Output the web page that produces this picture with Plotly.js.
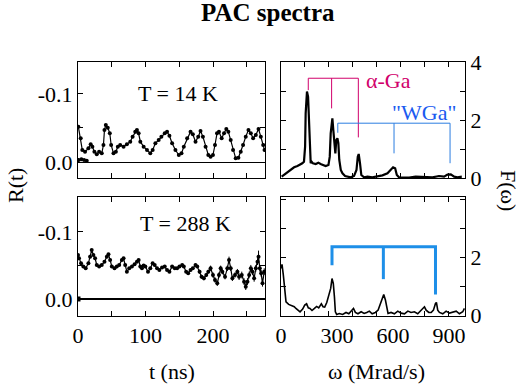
<!DOCTYPE html>
<html>
<head>
<meta charset="utf-8">
<script src="https://cdn.plot.ly/plotly-3.0.1.min.js"></script>
<style>html,body{margin:0;padding:0;background:#fff}#chart{width:520px;height:384px}</style>
</head>
<body>
<div id="chart"></div>
<script>
// ---- T = 14 K, R(t) ----
const t14 = [0.5,4.0,6.4,10.4,15.4,18.8,21.3,24.3,27.8,31.3,35.2,37.7,39.2,41.2,44.1,47.1,49.1,52.6,56.1,59.0,62.5,67.5,72.4,77.4,80.9,84.8,87.3,89.8,92.3,97.2,102.2,107.1,110.6,114.6,119.5,123.5,128.5,131.9,135.4,139.4,144.3,149.3,153.3,156.7,161.7,166.7,170.1,174.1,178.1,181.5,185.0,189.0,193.0,196.4,199.9,202.9,205.9,208.8,212.8,216.3,219.7,222.7,226.2,229.7,233.6,237.6,241.1,244.5,248.5,252.5,256.0,259.4,263.4,267.4,270.8,274.3,276.3];
const r14 = [-0.052,-0.0348,-0.0176,-0.0152,-0.0201,-0.026,-0.0225,-0.0152,-0.0113,-0.0152,-0.0127,-0.025,-0.047,-0.0544,-0.0505,-0.0422,-0.025,-0.0127,-0.0152,-0.0225,-0.025,-0.0225,-0.026,-0.0299,-0.0373,-0.0446,-0.047,-0.0422,-0.0299,-0.0225,-0.0176,-0.0127,-0.0176,-0.0275,-0.0324,-0.0373,-0.0422,-0.0446,-0.0387,-0.0275,-0.0176,-0.0103,-0.0127,-0.0225,-0.0348,-0.0446,-0.0407,-0.0299,-0.0373,-0.0456,-0.0373,-0.0225,-0.0103,-0.0078,-0.0103,-0.025,-0.0422,-0.0446,-0.0348,-0.0422,-0.0485,-0.0446,-0.0324,-0.0176,-0.0054,-0.0064,-0.0152,-0.025,-0.0373,-0.047,-0.0422,-0.0348,-0.0397,-0.0485,-0.0373,-0.025,-0.0176];
const t14Prompt = [1, 5, 9, 13];
const r14Prompt = [-0.003, -0.004, -0.003, -0.002];

// ---- T = 288 K, R(t) ----
const t288 = [0,1.5,4.5,7.9,11.4,15.4,17.9,20.3,22.8,25.3,27.8,31.3,35.2,39.2,42.7,45.1,47.6,50.1,54.1,57.5,61.0,65.0,67.5,69.9,72.4,75.9,79.9,83.8,87.3,89.8,92.3,94.7,97.2,99.7,103.7,107.1,110.6,113.6,117.1,120.5,124.5,128.5,131.9,135.4,139.4,143.3,146.8,150.3,154.3,156.7,160.2,163.2,166.7,170.1,174.1,176.6,180.1,183.0,186.5,190.0,193.0,196.4,199.9,202.9,206.3,208.8,211.3,213.8,217.8,221.2,223.7,226.2,228.7,232.6,236.1,238.6,242.6,246.0,248.5,251.0,253.5,256.0,258.4,260.9,263.4,265.9,267.4,269.3,271.3,273.3,275.8];
const r288 = [-0.0657,-0.0607,-0.0532,-0.0483,-0.0458,-0.0532,-0.0632,-0.0731,-0.0657,-0.0607,-0.0507,-0.0483,-0.0507,-0.0557,-0.0632,-0.0667,-0.0582,-0.0483,-0.0458,-0.0483,-0.0507,-0.0582,-0.0607,-0.0507,-0.0408,-0.0458,-0.0483,-0.0517,-0.0557,-0.0582,-0.0483,-0.0458,-0.0498,-0.0483,-0.0408,-0.0458,-0.0532,-0.0507,-0.0458,-0.0433,-0.0468,-0.0483,-0.0433,-0.0408,-0.0483,-0.0458,-0.0458,-0.0483,-0.0507,-0.0483,-0.0408,-0.0383,-0.0433,-0.0458,-0.0507,-0.0483,-0.0408,-0.0333,-0.0308,-0.0358,-0.0408,-0.0458,-0.0358,-0.0284,-0.0234,-0.0358,-0.0458,-0.0408,-0.0333,-0.0458,-0.0582,-0.0458,-0.0308,-0.0358,-0.0408,-0.0333,-0.0358,-0.0259,-0.0184,-0.0259,-0.0358,-0.0458,-0.0408,-0.0308,-0.0458,-0.0557,-0.0632,-0.0458,-0.0383,-0.0234,-0.0408];
const e288 = [0.001,0.001,0.001,0.001,0.001,0.001,0.001,0.001,0.001,0.001,0.001,0.001,0.001,0.001,0.001,0.001,0.001,0.001,0.001,0.001,0.001,0.001,0.001,0.001,0.001,0.001,0.001,0.001,0.001,0.001,0.001,0.001,0.001,0.001,0.001,0.001,0.001,0.001,0.001,0.001,0.001,0.001,0.001,0.001,0.001,0.001,0.001,0.001,0.001,0.001,0.002,0.002,0.002,0.002,0.002,0.002,0.003,0.003,0.003,0.003,0.003,0.004,0.004,0.004,0.004,0.004,0.004,0.004,0.004,0.004,0.005,0.004,0.004,0.004,0.004,0.005,0.005,0.005,0.005,0.005,0.005,0.005,0.005,0.005,0.005,0.005,0.009,0.005,0.005,0.005,0.005];
const t288Start = [0];
const r288Start = [0];

// ---- T = 14 K, F(omega) ----
const w14 = [3.6,16,34,52,70,88,100,114,123,129,132,136,139,145,150,155,159,164,171,186,200,212,225,239,254,261,266,271,275,280,286,291,296,302,307,312,320,329,343,355,373,391,404,411,416,423,430,445,463,489,516,543,570,588,600,611,620,632,659,686,721,748,775,811,846,873,891,909,927,945,968];
const f14 = [0.046,0.103,0.184,0.276,0.368,0.414,0.448,0.506,0.563,1.08,2.23,2.86,2.98,2.80,2.0,1.08,0.506,0.563,0.506,0.483,0.529,0.483,0.448,0.414,0.448,0.736,1.54,2.0,2.06,1.66,0.966,0.851,1.31,1.37,1.20,0.621,0.276,0.161,0.069,0.046,0.023,0.069,0.276,0.736,0.828,0.506,0.103,0.023,0.046,0.023,0.046,0.092,0.161,0.276,0.368,0.333,0.103,0.023,0.023,0.011,0.046,0.034,0.046,0.023,0.069,0.046,0.115,0.126,0.046,0.023,0.046];

// ---- T = 288 K, F(omega) ----
const w288 = [0,5.4,12.5,19.6,26.8,41,59,71,80,89,102,116,127,137,146,155,166,179,191,202,209,216,225,234,245,255,266,273,280,286,291,298,312,330,348,363,377,388,398,412,429,445,459,473,488,505,520,530,541,550,559,566,573,589,607,625,643,661,679,696,714,732,750,768,777,791,804,816,827,832,839,848,866,884,902,920,938,955,973,982];
const f288 = [1.61,1.75,1.38,0.80,0.46,0.37,0.32,0.29,0.23,0.17,0.115,0.21,0.345,0.39,0.25,0.23,0.16,0.23,0.30,0.25,0.345,0.39,0.29,0.276,0.437,0.63,0.92,1.26,1.09,0.63,0.115,0.023,0.057,0.023,0.092,0.046,0.138,0.23,0.092,0.046,0.115,0.057,0.092,0.138,0.046,0.092,0.172,0.345,0.60,0.71,0.52,0.23,0.057,0.092,0.046,0.138,0.069,0.046,0.138,0.092,0.115,0.046,0.161,0.287,0.172,0.092,0.092,0.172,0.40,0.437,0.172,0.092,0.046,0.138,0.069,0.092,0.138,0.046,0.115,0.23];

// ---- frequency brackets ----
const alphaLegs = [146, 271, 414];
const alphaLegEnds = [3.03, 2.40, 1.40];
const alphaTop = 3.44;
const wgaLegs = [304, 605, 905];
const wgaLegEnds = [1.56, 0.85, 0.51];
const wgaTop = 1.89;
const hotLegs = [273, 548, 827];
const hotLegEnds = [1.72, 1.24, 0.71];
const hotTop = 2.36;

// ---- tick labels ----
const tTickVals = [0, 50, 100, 150, 200, 250];
const tTickText = ['0', '', '100', '', '200', ''];
const wLabelVals = [0, 300, 600, 900];
const wLabelText = ['0', '300', '600', '900'];
const wTickVals = [128, 256, 384, 512, 640, 768, 896];
const rTickVals = [-0.1, -0.05, 0];
const rTickText = ['-0.1', '', '0.0'];
const fTickVals = [0, 1, 2, 3, 4];
const fTickTextTop = ['0', '', '2', '', '4'];
const fTickTextBot = ['0', '', '2', '', ''];

function bracket(legs, ends, top) {
  return {
    x: [legs[0], legs[0], legs[2], legs[2], null, legs[1], legs[1]],
    y: [ends[0], top, top, ends[2], null, top, ends[1]]
  };
}

const FONT = '"Liberation Serif", "Times New Roman", Times, serif';
const W = 520, H = 384;
const px = v => v / W, py = v => 1 - v / H;

const bA = bracket(alphaLegs, alphaLegEnds, alphaTop);
const bW = bracket(wgaLegs, wgaLegEnds, wgaTop);
const bH = bracket(hotLegs, hotLegEnds, hotTop);

const traces = [
  {x: t14, y: r14, xaxis: 'x', yaxis: 'y', mode: 'lines+markers', line: {color: '#000', width: 1.2}, marker: {color: '#000', size: 4}},
  {x: t14Prompt, y: r14Prompt, xaxis: 'x', yaxis: 'y', mode: 'markers', marker: {color: '#000', size: 4}},
  {x: w14, y: f14, xaxis: 'x2', yaxis: 'y2', mode: 'lines', line: {color: '#000', width: 2.2}},
  {x: bA.x, y: bA.y, xaxis: 'x2', yaxis: 'y2', mode: 'lines', line: {color: '#d1006b', width: 1}},
  {x: bW.x, y: bW.y, xaxis: 'x2', yaxis: 'y2', mode: 'lines', line: {color: '#2a7de1', width: 1}},
  {x: t288, y: r288, xaxis: 'x3', yaxis: 'y3', mode: 'lines+markers', line: {color: '#000', width: 1.2}, marker: {color: '#000', size: 4},
   error_y: {type: 'data', array: e288, visible: true, color: '#000', thickness: 1, width: 0}},
  {x: t288Start, y: r288Start, xaxis: 'x3', yaxis: 'y3', mode: 'markers', marker: {color: '#000', size: 5, symbol: 'square'}},
  {x: w288, y: f288, xaxis: 'x4', yaxis: 'y4', mode: 'lines', line: {color: '#000', width: 1.6}},
  {x: bH.x, y: bH.y, xaxis: 'x4', yaxis: 'y4', mode: 'lines', line: {color: '#1e8fe8', width: 3}}
];

const tickFont = {family: FONT, size: 22, color: '#000'};
const common = {showline: true, linecolor: '#000', linewidth: 1, mirror: 'ticks', ticks: 'inside', ticklen: 5, tickcolor: '#000', showgrid: false, tickfont: tickFont, fixedrange: true};

const leftDom = [px(78), px(265)];
const rightDom = [px(281), px(465)];
const topDom = [py(178), py(62)];
const botDom = [py(316), py(197)];

const layout = {
  width: W, height: H,
  margin: {l: 0, r: 0, t: 0, b: 0},
  paper_bgcolor: '#fff', plot_bgcolor: '#fff',
  showlegend: false,
  font: {family: FONT, color: '#000'},
  xaxis: Object.assign({}, common, {domain: leftDom, anchor: 'y', range: [0, 277], tickmode: 'array', tickvals: tTickVals, ticktext: tTickVals.map(() => ''), zeroline: false}),
  yaxis: Object.assign({}, common, {domain: topDom, anchor: 'x', range: [0.0235, -0.147], tickmode: 'array', tickvals: rTickVals, ticktext: rTickText, zeroline: true, zerolinecolor: '#000', zerolinewidth: 1}),
  xaxis2: Object.assign({}, common, {domain: rightDom, anchor: 'y2', range: [0, 985], tickmode: 'array', tickvals: wLabelVals, ticktext: wLabelVals.map(() => ''), ticklen: 0, zeroline: false,
    minor: {tickmode: 'array', tickvals: wTickVals, ticks: 'inside', ticklen: 5, tickcolor: '#000', showgrid: false}}),
  yaxis2: Object.assign({}, common, {domain: topDom, anchor: 'x2', side: 'right', range: [0, 4], tickmode: 'array', tickvals: fTickVals, ticktext: fTickTextTop, zeroline: false}),
  xaxis3: Object.assign({}, common, {domain: leftDom, anchor: 'y3', range: [0, 277], tickmode: 'array', tickvals: tTickVals, ticktext: tTickText, zeroline: false}),
  yaxis3: Object.assign({}, common, {domain: botDom, anchor: 'x3', range: [0.0254, -0.1522], tickmode: 'array', tickvals: rTickVals, ticktext: rTickText, zeroline: true, zerolinecolor: '#000', zerolinewidth: 2}),
  xaxis4: Object.assign({}, common, {domain: rightDom, anchor: 'y4', range: [0, 985], tickmode: 'array', tickvals: wLabelVals, ticktext: wLabelText, ticklen: 0, zeroline: false,
    minor: {tickmode: 'array', tickvals: wTickVals, ticks: 'inside', ticklen: 5, tickcolor: '#000', showgrid: false}}),
  yaxis4: Object.assign({}, common, {domain: botDom, anchor: 'x4', side: 'right', range: [-0.03, 4.07], tickmode: 'array', tickvals: fTickVals, ticktext: fTickTextBot, zeroline: false}),
  annotations: [
    {text: '<b>PAC spectra</b>', x: px(268), y: py(12), xref: 'paper', yref: 'paper', showarrow: false, xanchor: 'center', yanchor: 'middle', font: {family: FONT, size: 25, color: '#000'}},
    {text: 'T = 14 K', x: px(178), y: py(93), xref: 'paper', yref: 'paper', showarrow: false, xanchor: 'center', yanchor: 'middle', font: {family: FONT, size: 22, color: '#000'}},
    {text: 'T = 288 K', x: px(185), y: py(223), xref: 'paper', yref: 'paper', showarrow: false, xanchor: 'center', yanchor: 'middle', font: {family: FONT, size: 22, color: '#000'}},
    {text: 't (ns)', x: px(172), y: py(371), xref: 'paper', yref: 'paper', showarrow: false, xanchor: 'center', yanchor: 'middle', font: {family: FONT, size: 22, color: '#000'}},
    {text: 'ω (Mrad/s)', x: px(376), y: py(371), xref: 'paper', yref: 'paper', showarrow: false, xanchor: 'center', yanchor: 'middle', font: {family: FONT, size: 22, color: '#000'}},
    {text: 'R(t)', x: px(15), y: py(186), xref: 'paper', yref: 'paper', showarrow: false, xanchor: 'center', yanchor: 'middle', textangle: -90, font: {family: FONT, size: 22, color: '#000'}},
    {text: 'F(ω)', x: px(509), y: py(190), xref: 'paper', yref: 'paper', showarrow: false, xanchor: 'center', yanchor: 'middle', textangle: 90, font: {family: FONT, size: 22, color: '#000'}},
    {text: 'α-Ga', x: px(388), y: py(80), xref: 'paper', yref: 'paper', showarrow: false, xanchor: 'center', yanchor: 'middle', font: {family: FONT, size: 22, color: '#d1006b'}},
    {text: '"WGa"', x: px(424), y: py(112), xref: 'paper', yref: 'paper', showarrow: false, xanchor: 'center', yanchor: 'middle', font: {family: FONT, size: 22, color: '#1a5af0'}}
  ]
};

Plotly.newPlot('chart', traces, layout, {staticPlot: true, displayModeBar: false});
</script>
</body>
</html>
